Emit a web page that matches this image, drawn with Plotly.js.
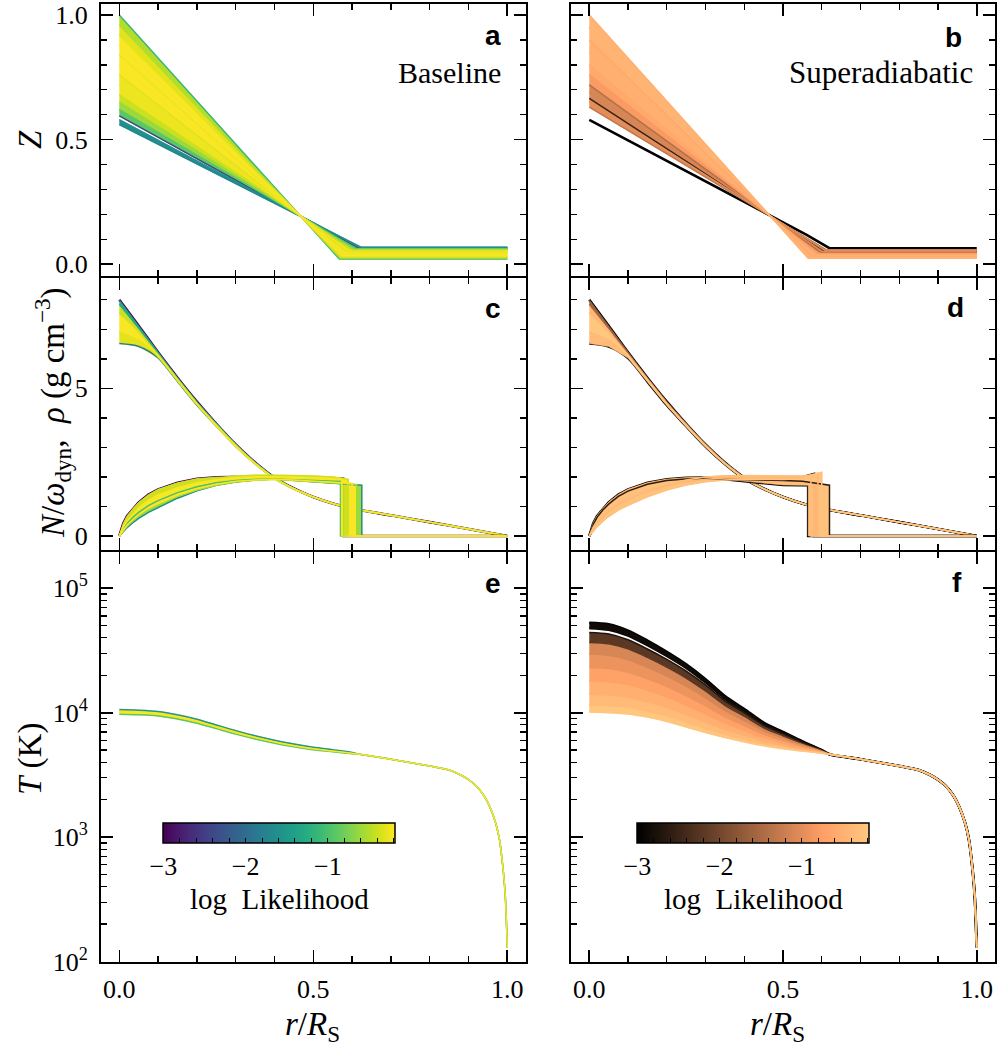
<!DOCTYPE html>
<html>
<head>
<meta charset="utf-8">
<script src="https://cdn.plot.ly/plotly-3.0.1.min.js"></script>
<style>
  html, body { margin: 0; padding: 0; background: #ffffff; }
  #chart { width: 997px; height: 1046px; }
</style>
</head>
<body>
<div id="chart"></div>
<script>
// ======================= DATA =======================
const rSurface = 1.0;

// --- Panel a: composition Z(r), baseline models ---
const zLeftCenter = [1.00, 0.96, 0.92, 0.88, 0.84, 0.80, 0.76, 0.72, 0.68, 0.65, 0.62, 0.595, 0.58, 0.56];
const zLeftBreak  = [0.567, 0.569, 0.572, 0.576, 0.579, 0.583, 0.588, 0.593, 0.600, 0.605, 0.611, 0.617, 0.621, 0.624];
const zLeftOuter  = [0.021, 0.025, 0.030, 0.034, 0.038, 0.043, 0.047, 0.052, 0.056, 0.059, 0.062, 0.065, 0.067, 0.068];
const zLeftLogL   = [-1.1, -0.5, -0.3, -0.2, -0.25, -0.2, -0.3, -0.25, -0.4, -0.6, -0.9, -2.4, -1.6, -1.7];
const zLeftGroup  = [0, 0, 0, 0, 0, 0, 0, 0, 0, 0, 0, 0, 1, 1];

// --- Panel b: composition Z(r), superadiabatic models ---
const zRightCenter = [1.00, 0.95, 0.90, 0.85, 0.80, 0.76, 0.72, 0.69, 0.665, 0.652, 0.63, 0.579];
const zRightBreak  = [0.565, 0.570, 0.574, 0.580, 0.586, 0.591, 0.597, 0.602, 0.606, 0.608, 0.612, 0.621];
const zRightOuter  = [0.024, 0.027, 0.031, 0.035, 0.039, 0.043, 0.047, 0.051, 0.054, 0.056, 0.058, 0.064];
const zRightMidR   = [null, null, null, null, null, null, null, null, null, null, null, 0.561];
const zRightMidZ   = [null, null, null, null, null, null, null, null, null, null, null, 0.118];
const zRightLogL   = [-0.5, -0.45, -0.6, -0.5, -0.6, -0.8, -1.4, -1.1, -2.5, -1.0, -1.3, -3.0];
const zRightGroup  = [0, 0, 0, 0, 0, 0, 0, 0, 0, 0, 0, 1];

// --- Panels c, d: density rho(r) ---
const rhoCoreR = [0, 0.05, 0.10, 0.15, 0.20, 0.25, 0.30, 0.35, 0.40, 0.45];
const rhoTailR = [0.50, 0.55, 0.60, 0.70, 0.80, 0.90, 1.00];
const rhoTail  = [1.32, 1.10, 0.93, 0.70, 0.47, 0.24, 0.00];
const rhoModels = [
  [8.00, 7.12, 6.22, 5.36, 4.55, 3.80, 3.10, 2.49, 1.98, 1.61],
  [7.85, 7.04, 6.19, 5.34, 4.53, 3.80, 3.10, 2.49, 1.98, 1.61],
  [7.55, 6.92, 6.14, 5.31, 4.50, 3.77, 3.08, 2.47, 1.96, 1.60],
  [7.20, 6.78, 6.10, 5.28, 4.47, 3.74, 3.05, 2.45, 1.95, 1.60],
  [6.90, 6.62, 6.07, 5.26, 4.45, 3.72, 3.03, 2.44, 1.94, 1.59],
  [6.52, 6.42, 6.03, 5.23, 4.43, 3.72, 3.03, 2.44, 1.94, 1.59]
];
const rhoLogLLeft  = [-3.0, -1.3, -0.4, -0.2, -0.3, -1.8];
const rhoLogLRight = [-3.0, -1.6, -0.4, -0.2, -0.35, -2.8];

// --- Panels c, d: buoyancy frequency N/omega_dyn ---
const nGridR = [0, 0.01, 0.02, 0.035, 0.05, 0.075, 0.10, 0.15, 0.20, 0.25, 0.30, 0.35, 0.40, 0.45, 0.50, 0.55];
const nLeftModels = [
  [0, 0.24, 0.42, 0.63, 0.80, 1.03, 1.20, 1.47, 1.67, 1.80, 1.88, 1.92, 1.93, 1.91, 1.88, 1.86],
  [0, 0.30, 0.52, 0.75, 0.95, 1.20, 1.38, 1.62, 1.80, 1.90, 1.96, 1.98, 1.99, 1.98, 1.96, 1.94],
  [0, 0.42, 0.68, 0.93, 1.14, 1.40, 1.58, 1.80, 1.94, 1.99, 2.01, 2.01, 2.00, 1.98, 1.96, 1.95],
  [0, 0.35, 0.58, 0.82, 1.02, 1.27, 1.45, 1.68, 1.84, 1.95, 2.03, 2.06, 2.06, 2.05, 2.03, 2.00],
  [0, 0.20, 0.37, 0.56, 0.72, 0.94, 1.10, 1.38, 1.60, 1.75, 1.85, 1.90, 1.92, 1.90, 1.86, 1.83],
  [0, 0.18, 0.33, 0.52, 0.68, 0.90, 1.06, 1.34, 1.56, 1.72, 1.83, 1.89, 1.92, 1.88, 1.83, 1.80],
  [0, 0.15, 0.28, 0.45, 0.60, 0.80, 0.96, 1.28, 1.53, 1.72, 1.83, 1.90, 1.93, 1.88, 1.82, 1.78]
];
const nLeftBreak   = [0.570, 0.573, 0.577, 0.590, 0.600, 0.612, 0.625];
const nLeftAtBreak = [1.85, 1.93, 1.94, 1.92, 1.78, 1.74, 1.72];
const nLeftLogL    = [-1.0, -0.2, -3.0, -0.4, -0.2, -0.6, -1.6];

const nRightModels = [
  [0, 0.26, 0.45, 0.66, 0.84, 1.07, 1.25, 1.51, 1.71, 1.84, 1.90, 1.92, 1.86, 1.78, 1.73, 1.72],
  [0, 0.30, 0.50, 0.72, 0.90, 1.14, 1.32, 1.57, 1.76, 1.90, 2.00, 2.04, 2.05, 2.04, 2.03, 2.03],
  [0, 0.42, 0.68, 0.93, 1.14, 1.40, 1.58, 1.80, 1.92, 1.97, 1.99, 1.99, 1.98, 1.97, 1.96, 1.99],
  [0, 0.26, 0.45, 0.66, 0.84, 1.07, 1.25, 1.51, 1.71, 1.84, 1.92, 1.96, 1.97, 1.96, 1.95, 1.97],
  [0, 0.17, 0.31, 0.50, 0.66, 0.88, 1.04, 1.33, 1.56, 1.73, 1.84, 1.90, 1.93, 1.92, 1.91, 1.94],
  [0, 0.38, 0.63, 0.88, 1.08, 1.34, 1.52, 1.75, 1.88, 1.93, 1.95, 1.94, 1.92, 1.90, 1.88, 1.85]
];
const nRightBreak   = [0.565, 0.572, 0.580, 0.590, 0.600, 0.620];
const nRightAtBreak = [1.72, 2.06, 2.10, 2.13, 2.16, 1.72];
const nRightLogL    = [-3.0, -0.3, -2.8, -0.4, -0.25, -2.6];

// --- Panels e, f: temperature T(r) in K ---
const tCoreR = [0, 0.05, 0.10, 0.15, 0.20, 0.25, 0.30, 0.35, 0.40, 0.45, 0.50, 0.55, 0.60];
const tTailR = [0.62, 0.70, 0.80, 0.85, 0.88, 0.90, 0.92, 0.94, 0.955, 0.97, 0.98, 0.99, 0.995, 1.0];
const tTail  = [4630, 4230, 3730, 3470, 3160, 2900, 2580, 2150, 1750, 1300, 950, 520, 330, 130];
const tLeftModels = [
  [10590, 10470, 10230, 9638, 8872, 7980, 7178, 6531, 6012, 5598, 5272, 5035, 4790],
  [10120, 10000, 9772, 9226, 8511, 7674, 6918, 6310, 5821, 5433, 5129, 4920, 4721],
  [9705, 9616, 9419, 8913, 8241, 7447, 6730, 6152, 5689, 5321, 5035, 4850, 4680]
];
const tLeftLogL = [-1.5, -0.2, -0.9];

const tRightModels = [
  [52800, 51300, 45700, 38000, 30900, 24500, 18600, 13600, 10700, 8320, 7000, 5890, 5010],
  [47860, 46450, 41690, 34910, 28580, 22910, 17540, 12970, 10330, 8110, 6871, 5821, 4994],
  [44060, 42850, 38550, 32510, 26790, 21580, 16710, 12470, 10020, 7943, 6761, 5768, 4977],
  [36730, 35810, 32580, 27860, 23280, 19010, 14960, 11480, 9376, 7568, 6531, 5649, 4948],
  [29650, 28940, 26640, 23170, 19680, 16330, 13170, 10390, 8650, 7161, 6281, 5521, 4909],
  [23120, 22650, 21130, 18730, 16220, 13730, 11350, 9259, 7896, 6722, 5992, 5370, 4869],
  [18030, 17720, 16770, 15140, 13370, 11530, 9783, 8252, 7211, 6310, 5715, 5224, 4831],
  [14080, 13870, 13300, 12250, 11020, 9683, 8433, 7355, 6577, 5916, 5458, 5082, 4786],
  [11540, 11400, 11060, 10330, 9437, 8423, 7487, 6708, 6110, 5622, 5258, 4971, 4753],
  [10120, 10000, 9772, 9226, 8511, 7674, 6918, 6310, 5821, 5433, 5129, 4920, 4721]
];
const tRightLogL  = [-3.0, -2.85, -2.7, -2.2, -1.1, -0.9, -0.7, -0.5, -0.35, -0.2];
const tRightGroup = [0, 0, 1, 1, 1, 1, 1, 1, 1, 1];

// --- Tick labels ---
const xTickVals = [0, 0.5, 1.0];
const xTickText = ['0.0', '0.5', '1.0'];
const zTickVals = [0, 0.5, 1.0];
const zTickText = ['0.0', '0.5', '1.0'];
const midTickVals = [0, 5];
const midTickText = ['0', '5'];
const tTickVals = [1e2, 1e3, 1e4, 1e5];
const tTickText = ['10<sup>2</sup>', '10<sup>3</sup>', '10<sup>4</sup>', '10<sup>5</sup>'];
const tMinorVals = [200, 300, 400, 500, 600, 700, 800, 900,
                    2000, 3000, 4000, 5000, 6000, 7000, 8000, 9000,
                    20000, 30000, 40000, 50000, 60000, 70000, 80000, 90000];
const cbMin = -3.0, cbMax = -0.18;
const cbTickStart = -3, cbTickStep = 0.2, cbLabelEvery = 5;

// ======================= COLOUR SCALES =======================
const viridisScale = [[0,'#440154'],[0.0627,'#48186a'],[0.1255,'#472d7b'],[0.1882,'#424086'],[0.2510,'#3b528b'],
  [0.3137,'#33638d'],[0.3765,'#2c728e'],[0.4392,'#26828e'],[0.5020,'#21918c'],[0.5647,'#1fa088'],
  [0.6275,'#28ae80'],[0.6902,'#3fbc73'],[0.7529,'#5ec962'],[0.8157,'#84d44b'],[0.8784,'#addc30'],
  [0.9412,'#d8e219'],[1,'#fde725']];
const copperScale = [[0,'#000000'],[0.8,'#ff9f65'],[1,'#ffc77f']];

function hexToRgb(h) { return [parseInt(h.slice(1,3),16), parseInt(h.slice(3,5),16), parseInt(h.slice(5,7),16)]; }
function colorAt(scale, v) {
  let t = (v - cbMin) / (cbMax - cbMin);
  t = Math.max(0, Math.min(1, t));
  for (let i = 0; i < scale.length - 1; i++) {
    const [t0, c0] = scale[i], [t1, c1] = scale[i + 1];
    if (t <= t1) {
      const f = (t - t0) / (t1 - t0), a = hexToRgb(c0), b = hexToRgb(c1);
      return 'rgb(' + a.map((x, k) => Math.round(x + (b[k] - x) * f)).join(',') + ')';
    }
  }
  return scale[scale.length - 1][1];
}

// ======================= BUILD TRACES =======================
const traces = [];
const UNDER = -2.75;   // least likely models are drawn beneath the filled band
function addBand(curves, k, scale, smooth) {
  const xa = k === 1 ? 'x' : 'x' + k, ya = k === 1 ? 'y' : 'y' + k;
  const shape = smooth ? 'spline' : 'linear';
  const order = curves.map((c, i) => i).sort((p, q) => curves[p].logL - curves[q].logL);
  const lineTrace = (c, w) => ({
    type: 'scatter', mode: 'lines', xaxis: xa, yaxis: ya, hoverinfo: 'skip', showlegend: false,
    x: c.x, y: c.y, line: { color: colorAt(scale, c.logL), width: w, shape, smoothing: 0.8 }
  });
  order.filter(i => curves[i].logL < UNDER).forEach(i => traces.push(lineTrace(curves[i], 2.6)));
  for (let i = 0; i < curves.length - 1; i++) {
    const a = curves[i], b = curves[i + 1];
    if (a.group !== b.group) continue;
    const col = colorAt(scale, Math.max(a.logL, b.logL));
    traces.push({
      type: 'scatter', mode: 'lines', fill: 'toself', xaxis: xa, yaxis: ya, hoverinfo: 'skip', showlegend: false,
      x: a.x.concat(b.x.slice().reverse()), y: a.y.concat(b.y.slice().reverse()),
      fillcolor: col, line: { color: col, width: 0.6 }
    });
  }
  order.filter(i => curves[i].logL >= UNDER).forEach(i => traces.push(lineTrace(curves[i], 1.5)));
}

// Panel a
addBand(zLeftCenter.map((z0, i) => ({
  x: [0, zLeftBreak[i], rSurface], y: [z0, zLeftOuter[i], zLeftOuter[i]],
  logL: zLeftLogL[i], group: zLeftGroup[i]
})), 1, viridisScale, false);
// Panel b
addBand(zRightCenter.map((z0, i) => {
  const x = [0], y = [z0];
  if (zRightMidR[i] !== null) { x.push(zRightMidR[i]); y.push(zRightMidZ[i]); }
  x.push(zRightBreak[i], rSurface); y.push(zRightOuter[i], zRightOuter[i]);
  return { x, y, logL: zRightLogL[i], group: zRightGroup[i] };
}), 2, copperScale, false);
// Panels c, d: density
addBand(rhoModels.map((m, i) => ({ x: rhoCoreR.concat(rhoTailR), y: m.concat(rhoTail), logL: rhoLogLLeft[i], group: 0 })), 3, viridisScale, true);
addBand(rhoModels.map((m, i) => ({ x: rhoCoreR.concat(rhoTailR), y: m.concat(rhoTail), logL: rhoLogLRight[i], group: 0 })), 4, copperScale, true);
// Panels c, d: N
addBand(nLeftModels.map((m, i) => ({
  x: nGridR.concat([nLeftBreak[i], nLeftBreak[i], rSurface]), y: m.concat([nLeftAtBreak[i], 0, 0]),
  logL: nLeftLogL[i], group: 0
})), 3, viridisScale, false);
addBand(nRightModels.map((m, i) => ({
  x: nGridR.concat([nRightBreak[i], nRightBreak[i], rSurface]), y: m.concat([nRightAtBreak[i], 0, 0]),
  logL: nRightLogL[i], group: 0
})), 4, copperScale, false);
// Panels e, f: temperature
addBand(tLeftModels.map((m, i) => ({ x: tCoreR.concat(tTailR), y: m.concat(tTail), logL: tLeftLogL[i], group: 0 })), 5, viridisScale, true);
addBand(tRightModels.map((m, i) => ({ x: tCoreR.concat(tTailR), y: m.concat(tTail), logL: tRightLogL[i], group: tRightGroup[i] })), 6, copperScale, true);

// invisible markers carrying the likelihood colour axes
traces.push({ type: 'scatter', mode: 'markers', xaxis: 'x', yaxis: 'y', hoverinfo: 'skip', showlegend: false,
  x: zLeftBreak, y: zLeftOuter, marker: { size: 2, opacity: 0, color: zLeftLogL, coloraxis: 'coloraxis' } });
traces.push({ type: 'scatter', mode: 'markers', xaxis: 'x2', yaxis: 'y2', hoverinfo: 'skip', showlegend: false,
  x: zRightBreak, y: zRightOuter, marker: { size: 2, opacity: 0, color: zRightLogL, coloraxis: 'coloraxis2' } });

// ======================= LAYOUT =======================
const W = 997, H = 1046;
const px = v => v / W;
const py = v => 1 - v / H;
const SERIF = 'Liberation Serif, Times New Roman, serif';
const SANS = 'Liberation Sans, Arial, sans-serif';

// domains chosen so that the 2px frame lines of neighbouring panels coincide
const colL = [px(101), px(526)], colR = [px(570.5), px(994.5)];
const rowTop = [py(276), py(4)], rowMid = [py(550), py(278)], rowBot = [py(961.7), py(552)];
const xRangeL = [-0.0472, 1.0482], xRangeR = [-0.0485, 1.0459];

function baseAxis(extra) {
  return Object.assign({
    showline: true, linewidth: 2, linecolor: '#000', mirror: 'allticks',
    ticks: 'inside', ticklen: 12, tickwidth: 1.6, tickcolor: '#000',
    showgrid: false, zeroline: false, fixedrange: true,
    tickfont: { family: SERIF, size: 26, color: '#000' }
  }, extra);
}
const minorLin = d => ({ ticks: 'inside', ticklen: 6, tickwidth: 1.4, tickcolor: '#000', tickmode: 'linear', tick0: 0, dtick: d, showgrid: false });
function xAxis(domain, anchor, labels, range) {
  return baseAxis({ domain, anchor, range, tickmode: 'array', tickvals: xTickVals, ticktext: xTickText,
    showticklabels: labels, ticklabelstandoff: 3, minor: minorLin(0.1) });
}
function zAxis(domain, anchor, labels) {
  return baseAxis({ domain, anchor, range: [-0.047, 1.044], tickmode: 'array', tickvals: zTickVals, ticktext: zTickText,
    showticklabels: labels, ticklabelstandoff: 6, minor: minorLin(0.1) });
}
function midAxis(domain, anchor, labels) {
  return baseAxis({ domain, anchor, range: [-0.474, 8.737], tickmode: 'array', tickvals: midTickVals, ticktext: midTickText,
    showticklabels: labels, ticklabelstandoff: 6, minor: minorLin(1) });
}
function tAxis(domain, anchor, labels) {
  return baseAxis({ domain, anchor, type: 'log', range: [1.999, 5.2916], tickmode: 'array', tickvals: tTickVals, ticktext: tTickText,
    showticklabels: labels, ticklabelstandoff: 6,
    minor: { ticks: 'inside', ticklen: 6, tickwidth: 1.4, tickcolor: '#000', tickmode: 'array', tickvals: tMinorVals, showgrid: false } });
}

function cbar(xLeft) {
  return {
    orientation: 'h', x: px(xLeft), xanchor: 'left', y: py(822.7), yanchor: 'top',
    len: 232, lenmode: 'pixels', thickness: 20, thicknessmode: 'pixels', xpad: 0, ypad: 0,
    outlinewidth: 1.5, outlinecolor: '#000', ticks: 'inside', ticklen: 5, tickwidth: 1, tickcolor: '#000',
    tickmode: 'linear', tick0: cbTickStart, dtick: cbTickStep, ticklabelstep: cbLabelEvery,
    tickfont: { family: SERIF, size: 26, color: '#000' }
  };
}

function ann(text, x, y, opts) {
  return Object.assign({ text, x: px(x), y: py(y), xref: 'paper', yref: 'paper', showarrow: false,
    xanchor: 'center', yanchor: 'middle', font: { family: SERIF, size: 30, color: '#000' } }, opts || {});
}
const letterFont = { family: SANS, size: 28, color: '#000' };
const titleFont = { family: SERIF, size: 33, color: '#000' };

const layout = {
  width: W, height: H, margin: { l: 0, r: 0, t: 0, b: 0 },
  paper_bgcolor: '#fff', plot_bgcolor: 'rgba(0,0,0,0)', showlegend: false,
  font: { family: SERIF, size: 26, color: '#000' },
  xaxis: xAxis(colL, 'y', false, xRangeL), yaxis: zAxis(rowTop, 'x', true),
  xaxis2: xAxis(colR, 'y2', false, xRangeR), yaxis2: zAxis(rowTop, 'x2', false),
  xaxis3: xAxis(colL, 'y3', false, xRangeL), yaxis3: midAxis(rowMid, 'x3', true),
  xaxis4: xAxis(colR, 'y4', false, xRangeR), yaxis4: midAxis(rowMid, 'x4', false),
  xaxis5: xAxis(colL, 'y5', true, xRangeL), yaxis5: tAxis(rowBot, 'x5', true),
  xaxis6: xAxis(colR, 'y6', true, xRangeR), yaxis6: tAxis(rowBot, 'x6', false),
  coloraxis: { cmin: cbMin, cmax: cbMax, colorscale: viridisScale, colorbar: cbar(163.3) },
  coloraxis2: { cmin: cbMin, cmax: cbMax, colorscale: copperScale, colorbar: cbar(637.3) },
  annotations: [
    ann('<b>a</b>', 503, 35, { xanchor: 'right', font: letterFont }),
    ann('<b>b</b>', 964, 37, { xanchor: 'right', font: letterFont }),
    ann('<b>c</b>', 503, 308, { xanchor: 'right', font: letterFont }),
    ann('<b>d</b>', 966, 307, { xanchor: 'right', font: letterFont }),
    ann('<b>e</b>', 503, 583, { xanchor: 'right', font: letterFont }),
    ann('<b>f</b>', 964, 582, { xanchor: 'right', font: letterFont }),
    ann('Baseline', 503, 72, { xanchor: 'right' }),
    ann('Superadiabatic', 975, 72, { xanchor: 'right', font: { family: SERIF, size: 31, color: '#000' } }),
    ann('<i>Z</i>', 30, 140, { textangle: -90, font: titleFont }),
    ann('<i>N</i>/<i>ω</i><sub>dyn</sub>,  <i>ρ</i> (g cm<sup>−3</sup>)', 52, 413, { textangle: -90, font: titleFont }),
    ann('<i>T</i> (K)', 30, 759, { textangle: -90, font: titleFont }),
    ann('<i>r</i>/<i>R</i><sub>S</sub>', 312, 1026, { font: titleFont }),
    ann('<i>r</i>/<i>R</i><sub>S</sub>', 777, 1026, { font: titleFont }),
    ann('log  Likelihood', 279, 899, { font: { family: SERIF, size: 29, color: '#000' } }),
    ann('log  Likelihood', 753.5, 899, { font: { family: SERIF, size: 29, color: '#000' } })
  ]
};

Plotly.newPlot('chart', traces, layout, { staticPlot: true, displayModeBar: false });
</script>
</body>
</html>
